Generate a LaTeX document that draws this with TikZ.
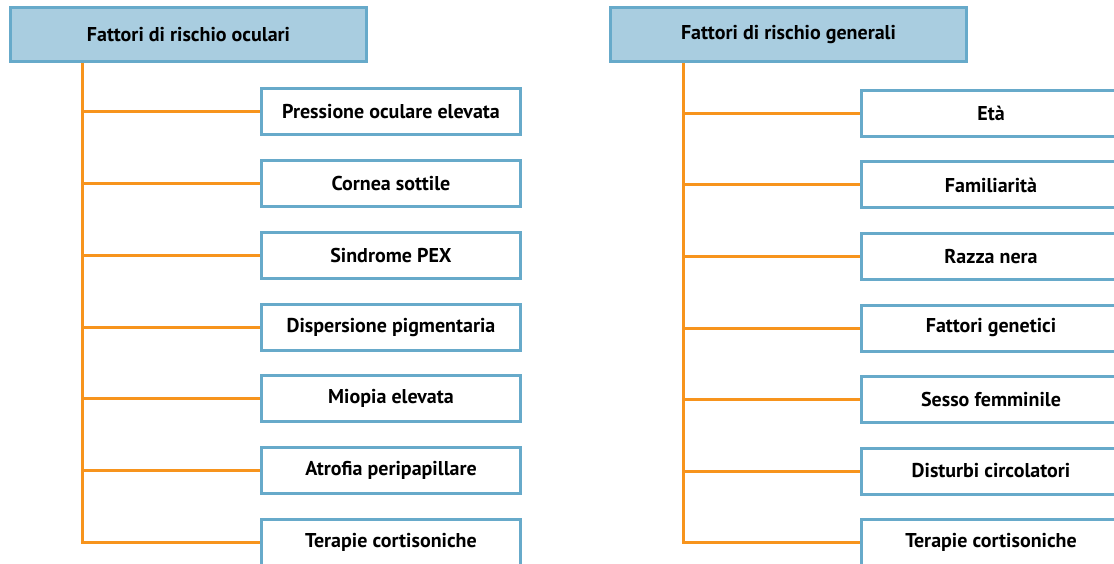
\documentclass[tikz,border=0pt]{standalone}
\usepackage{fontspec}
\setmainfont{PT Sans}
\usetikzlibrary{positioning}
\definecolor{testata}{HTML}{A9CDE0}
\definecolor{bordo}{HTML}{67AACA}
\definecolor{ramo}{HTML}{F7941D}

\begin{document}
\begin{tikzpicture}[x=1pt,y=-1pt,
	testa/.style={draw=bordo,fill=testata,line width=3pt,minimum width=356pt,minimum height=54pt,inner sep=0pt,font=\bfseries\fontsize{20}{24}\selectfont},
	voce/.style={draw=bordo,fill=white,line width=3pt,minimum width=259pt,minimum height=46pt,inner sep=0pt,font=\bfseries\fontsize{20}{24}\selectfont},
	linea/.style={draw=ramo,line width=3pt}]
	\useasboundingbox (0,0) rectangle (1114,564);
	
	% fattori oculari
	\node[testa] (ol) at (188.5,34.5) {Fattori di rischio oculari};
	\coordinate (oradice) at (82,0);
	\foreach \testo [count=\i] in {Pressione oculare elevata,Cornea sottile,Sindrome PEX,Dispersione pigmentaria,Miopia elevata,Atrofia peripapillare,Terapie cortisoniche}
		\node[voce] (o\i) at (391,{112+71.67*(\i-1)}) {\testo};
	\draw[linea] (ol.south -| oradice) |- (o7.west);
	\foreach \i in {1,...,6}
		\draw[linea] (oradice |- o\i.west) -- (o\i.west);
	
	% fattori generali
	\node[testa] (gl) at (788.5,34.5) {Fattori di rischio generali};
	\coordinate (gradice) at (683,0);
	\foreach \testo [count=\i] in {Età,Familiarità,Razza nera,Fattori genetici,Sesso femminile,Disturbi circolatori,Terapie cortisoniche}
		\node[voce] (g\i) at (991,{113.5+71.5*(\i-1)}) {\testo};
	\draw[linea] (gl.south -| gradice) |- (g7.west);
	\foreach \i in {1,...,6}
		\draw[linea] (gradice |- g\i.west) -- (g\i.west);
\end{tikzpicture}
\end{document}
